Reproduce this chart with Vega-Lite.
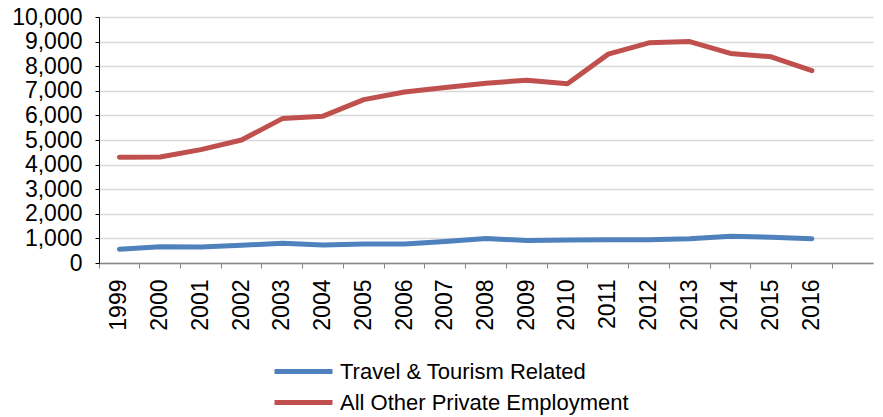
{
  "$schema": "https://vega.github.io/schema/vega-lite/v6.json",
  "width": 774,
  "height": 246,
  "autosize": "none",
  "padding": {"left": 99, "top": 17, "right": 10, "bottom": 154},
  "background": "white",
  "config": {
    "font": "Liberation Sans",
    "view": {"stroke": null},
    "legend": {
      "title": null,
      "orient": "none",
      "direction": "vertical",
      "symbolType": "stroke",
      "symbolSize": 3364,
      "symbolStrokeWidth": 5,
      "labelFontSize": 22,
      "labelColor": "black",
      "labelLimit": 600,
      "labelOffset": 5
    }
  },
  "data": {
    "values": [
      {"year": "1999", "series": "All Other Private Employment", "value": 4300},
      {"year": "2000", "series": "All Other Private Employment", "value": 4310},
      {"year": "2001", "series": "All Other Private Employment", "value": 4610},
      {"year": "2002", "series": "All Other Private Employment", "value": 5000},
      {"year": "2003", "series": "All Other Private Employment", "value": 5870},
      {"year": "2004", "series": "All Other Private Employment", "value": 5970},
      {"year": "2005", "series": "All Other Private Employment", "value": 6640},
      {"year": "2006", "series": "All Other Private Employment", "value": 6950},
      {"year": "2007", "series": "All Other Private Employment", "value": 7130},
      {"year": "2008", "series": "All Other Private Employment", "value": 7310},
      {"year": "2009", "series": "All Other Private Employment", "value": 7430},
      {"year": "2010", "series": "All Other Private Employment", "value": 7290},
      {"year": "2011", "series": "All Other Private Employment", "value": 8490},
      {"year": "2012", "series": "All Other Private Employment", "value": 8950},
      {"year": "2013", "series": "All Other Private Employment", "value": 9000},
      {"year": "2014", "series": "All Other Private Employment", "value": 8520},
      {"year": "2015", "series": "All Other Private Employment", "value": 8380},
      {"year": "2016", "series": "All Other Private Employment", "value": 7820},
      {"year": "1999", "series": "Travel & Tourism Related", "value": 560},
      {"year": "2000", "series": "Travel & Tourism Related", "value": 660},
      {"year": "2001", "series": "Travel & Tourism Related", "value": 650},
      {"year": "2002", "series": "Travel & Tourism Related", "value": 720},
      {"year": "2003", "series": "Travel & Tourism Related", "value": 800},
      {"year": "2004", "series": "Travel & Tourism Related", "value": 730},
      {"year": "2005", "series": "Travel & Tourism Related", "value": 770},
      {"year": "2006", "series": "Travel & Tourism Related", "value": 770},
      {"year": "2007", "series": "Travel & Tourism Related", "value": 870},
      {"year": "2008", "series": "Travel & Tourism Related", "value": 1000},
      {"year": "2009", "series": "Travel & Tourism Related", "value": 910},
      {"year": "2010", "series": "Travel & Tourism Related", "value": 930},
      {"year": "2011", "series": "Travel & Tourism Related", "value": 950},
      {"year": "2012", "series": "Travel & Tourism Related", "value": 950},
      {"year": "2013", "series": "Travel & Tourism Related", "value": 990},
      {"year": "2014", "series": "Travel & Tourism Related", "value": 1090},
      {"year": "2015", "series": "Travel & Tourism Related", "value": 1050},
      {"year": "2016", "series": "Travel & Tourism Related", "value": 990}
    ]
  },
  "encoding": {
    "x": {
      "field": "year",
      "type": "ordinal",
      "bandPosition": 0.5,
      "scale": {
        "type": "band",
        "paddingInner": 0,
        "paddingOuter": 0,
        "domain": ["1999","2000","2001","2002","2003","2004","2005","2006","2007","2008","2009","2010","2011","2012","2013","2014","2015","2016","2017"]
      },
      "axis": {
        "title": null,
        "bandPosition": 0,
        "labelAngle": -90,
        "labelFontSize": 23,
        "labelColor": "black",
        "labelPadding": 11,
        "labelExpr": "datum.value == '2017' ? '' : datum.label",
        "domainColor": "#868686",
        "domainWidth": 1.5,
        "tickColor": "#868686",
        "tickSize": 5,
        "grid": false
      }
    },
    "y": {
      "field": "value",
      "type": "quantitative",
      "scale": {"domain": [0, 10000], "nice": false},
      "axis": {
        "title": null,
        "values": [0,1000,2000,3000,4000,5000,6000,7000,8000,9000,10000],
        "format": ",d",
        "labelFontSize": 23,
        "labelColor": "black",
        "labelPadding": 13,
        "domainColor": "black",
        "tickColor": "black",
        "tickSize": 4,
        "gridColor": "#d9d9d9",
        "gridWidth": 1.5
      }
    }
  },
  "layer": [
    {
      "transform": [{"filter": "datum.series == 'All Other Private Employment'"}],
      "mark": {"type": "line", "strokeWidth": 5, "strokeCap": "round", "strokeJoin": "round"},
      "encoding": {
        "color": {
          "field": "series",
          "type": "nominal",
          "scale": {"domain": ["All Other Private Employment"], "range": ["#c0504d"]},
          "legend": {"legendX": 173, "legendY": 354}
        }
      }
    },
    {
      "transform": [{"filter": "datum.series == 'Travel & Tourism Related'"}],
      "mark": {"type": "line", "strokeWidth": 5, "strokeCap": "round", "strokeJoin": "round"},
      "encoding": {
        "color": {
          "field": "series",
          "type": "nominal",
          "scale": {"domain": ["Travel & Tourism Related"], "range": ["#4f81bd"]},
          "legend": {"legendX": 173, "legendY": 323}
        }
      }
    }
  ],
  "resolve": {"scale": {"color": "independent"}}
}
